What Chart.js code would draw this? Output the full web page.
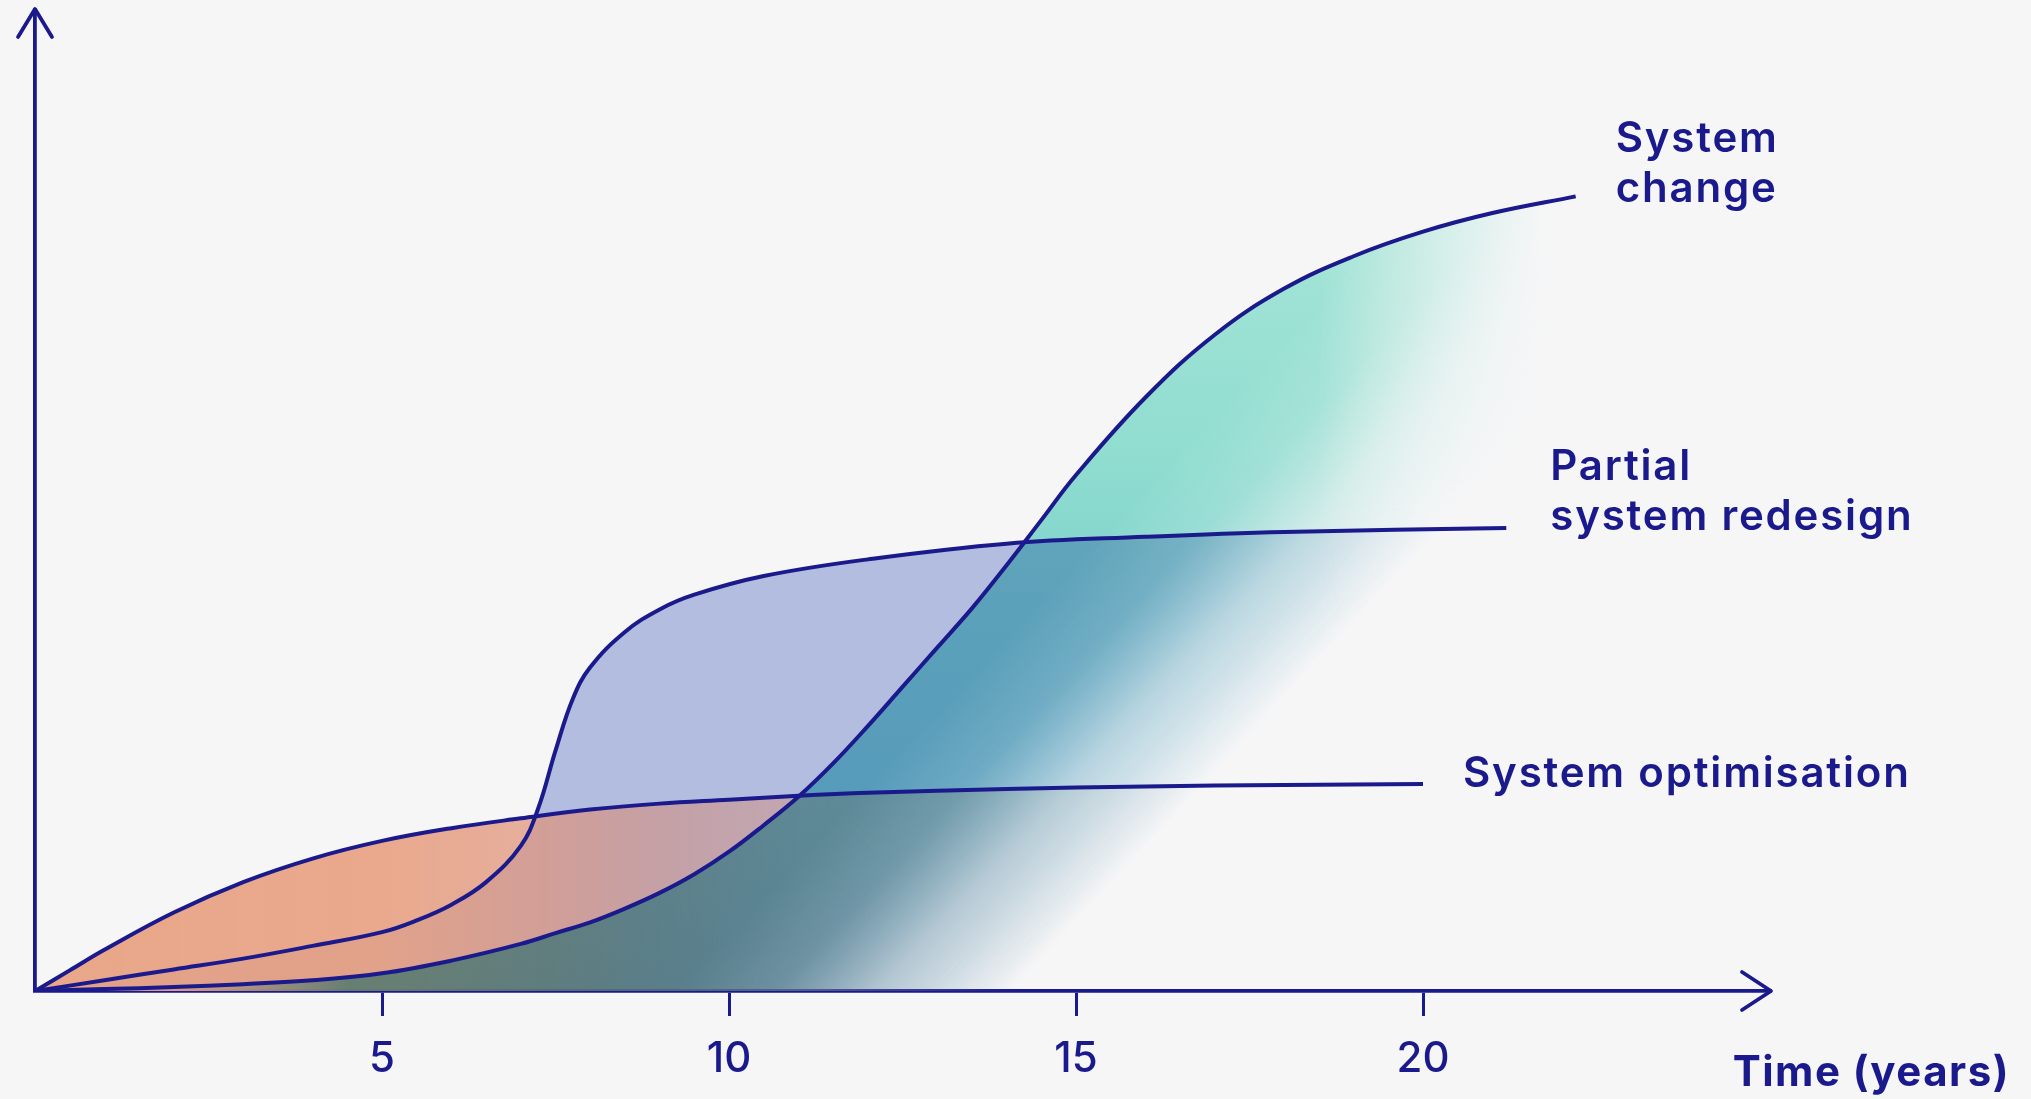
<!DOCTYPE html>
<html>
<head>
<meta charset="utf-8">
<title>System change over time</title>
<script src="https://cdn.jsdelivr.net/npm/chart.js@4.4.1/dist/chart.umd.min.js"></script>
<style>
  html, body { margin: 0; padding: 0; background: #f6f6f7; }
  #wrap { width: 2031px; height: 1099px; position: relative; }
</style>
</head>
<body>
<div id="wrap"><canvas id="changeChart"></canvas></div>
<script>
// values (x = years, y = relative impact 0-100)
const change_years = [0, 1, 2, 3, 4, 5, 6, 7, 7.5, 8, 8.5, 9, 9.5, 10, 10.5, 11, 11.5, 12, 12.5, 13, 13.5, 14, 14.5, 15, 16, 17, 18, 19, 20, 21, 22.2]
const change_values = [0, 0.2, 0.4, 0.7, 1.1, 1.8, 3.1, 4.8, 5.9, 7.0, 8.4, 10.0, 11.9, 14.2, 16.9, 19.8, 23.2, 27.0, 31.0, 35.0, 39.0, 43.4, 48.0, 52.6, 60.5, 66.9, 71.6, 74.9, 77.4, 79.3, 81.0]

const redesign_years = [0, 1, 2, 3, 4, 5, 5.5, 6, 6.5, 7, 7.25, 7.5, 7.75, 8, 8.5, 9, 9.5, 10.5, 12, 14, 16, 18, 21.2]
const redesign_values = [0, 1.1, 2.2, 3.3, 4.6, 6.0, 7.2, 8.8, 11.1, 14.8, 18.6, 24.5, 29.8, 33.0, 36.6, 38.9, 40.4, 42.3, 44.0, 45.6, 46.3, 46.8, 47.2]

const optimisation_years = [0, 0.5, 1, 2, 3, 4, 5, 6, 7, 8, 9, 10, 11, 12, 14, 16, 18, 20]
const optimisation_values = [0, 2.1, 4.2, 8.0, 11.1, 13.5, 15.3, 16.6, 17.6, 18.5, 19.1, 19.5, 19.9, 20.2, 20.6, 20.85, 21.0, 21.1]

const x_ticks = [5, 10, 15, 20]
const x_max = 25
const y_max = 100

const series_labels = [['System', 'change'], ['Partial', 'system redesign'], ['System optimisation']]
const axis_title = 'Time (years)'

const navy = '#1b1a8c'
const page_bg = '#f6f6f7'

const to_points = (xs, ys) => xs.map((x, i) => ({x: x, y: ys[i]}))

// soft colour layers used as fill styles, cached per canvas size
const layer_cache = {}

function build_layer(chart, name) {
  if (!chart.chartArea) return 'rgba(0,0,0,0)'
  const w = chart.width, h = chart.height
  const key = name + '_' + w + 'x' + h
  if (layer_cache[key]) return layer_cache[key]

  const xs = chart.scales.x, ys = chart.scales.y
  const px = v => xs.getPixelForValue(v)
  const py = v => ys.getPixelForValue(v)

  const off = document.createElement('canvas')
  off.width = w
  off.height = h
  const c = off.getContext('2d')

  if (name === 'change') {
    const g = c.createLinearGradient(0, py(80), 0, py(0))
    g.addColorStop(0, 'rgb(172,238,222)')
    g.addColorStop(0.31, 'rgb(150,230,215)')
    g.addColorStop(0.5, 'rgb(132,218,212)')
    g.addColorStop(1, 'rgb(116,200,212)')
    c.fillStyle = g
  } else if (name === 'optimisation') {
    const g = c.createLinearGradient(px(0), 0, px(16), 0)
    g.addColorStop(0, 'rgba(232,158,126,0.9)')
    g.addColorStop(5 / 16, 'rgba(232,158,126,0.88)')
    g.addColorStop(7.5 / 16, 'rgba(222,146,122,0.7)')
    g.addColorStop(9 / 16, 'rgba(212,138,120,0.56)')
    g.addColorStop(12 / 16, 'rgba(210,140,125,0.4)')
    g.addColorStop(1, 'rgba(210,150,140,0.25)')
    c.fillStyle = g
  } else {
    c.fillStyle = 'rgba(150,165,214,0.7)'
  }
  c.fillRect(0, 0, w, h)

  // fade out towards the bottom right, across a line from (11.7, 0) to (19.6, 60)
  c.globalCompositeOperation = 'destination-in'
  const ax = px(11.7), ay = py(0), bx = px(19.6), by = py(60)
  const len = Math.hypot(bx - ax, by - ay)
  const nx = -(by - ay) / len, ny = (bx - ax) / len
  const mx = (ax + bx) / 2, my = (ay + by) / 2
  const fade = c.createLinearGradient(mx - nx * 125, my - ny * 125, mx + nx * 120, my + ny * 120)
  fade.addColorStop(0, 'rgba(0,0,0,1)')
  fade.addColorStop(0.3, 'rgba(0,0,0,0.82)')
  fade.addColorStop(0.6, 'rgba(0,0,0,0.35)')
  fade.addColorStop(1, 'rgba(0,0,0,0)')
  c.fillStyle = fade
  c.fillRect(0, 0, w, h)

  if (name === 'change') {
    const left = c.createLinearGradient(px(2), 0, px(4.5), 0)
    left.addColorStop(0, 'rgba(0,0,0,0)')
    left.addColorStop(1, 'rgba(0,0,0,1)')
    c.fillStyle = left
    c.fillRect(0, 0, w, h)

    const right = c.createLinearGradient(px(18.5), 0, px(21.8), 0)
    right.addColorStop(0, 'rgba(0,0,0,1)')
    right.addColorStop(1, 'rgba(0,0,0,0)')
    c.fillStyle = right
    c.fillRect(0, 0, w, h)
  }

  layer_cache[key] = chart.ctx.createPattern(off, 'no-repeat')
  return layer_cache[key]
}

const decor_plugin = {
  id: 'decor',
  beforeDraw(chart) {
    const ctx = chart.ctx
    ctx.save()
    ctx.fillStyle = page_bg
    ctx.fillRect(0, 0, chart.width, chart.height)
    ctx.restore()
  },
  // the teal layer is blended with multiply over the two others
  afterDatasetDraw(chart, args) {
    if (args.index === 4) chart.ctx.globalCompositeOperation = 'multiply'
    if (args.index === 3) chart.ctx.globalCompositeOperation = 'source-over'
  },
  afterDraw(chart) {
    const ctx = chart.ctx
    const xs = chart.scales.x, ys = chart.scales.y
    const x0 = xs.getPixelForValue(0), y0 = ys.getPixelForValue(0)
    const x_end = xs.getPixelForValue(x_max), y_end = ys.getPixelForValue(y_max)

    ctx.save()
    ctx.strokeStyle = navy
    ctx.lineWidth = 3.8
    ctx.lineCap = 'round'
    ctx.lineJoin = 'round'
    ctx.beginPath()
    ctx.moveTo(x_end - 28, y0 - 19)
    ctx.lineTo(x_end + 1, y0)
    ctx.lineTo(x_end - 28, y0 + 19)
    ctx.moveTo(x0 - 17, y_end + 27)
    ctx.lineTo(x0, y_end - 1)
    ctx.lineTo(x0 + 17, y_end + 27)
    ctx.stroke()

    ctx.fillStyle = navy
    ctx.font = '600 42px Inter'
    ctx.letterSpacing = '1.8px'
    ctx.textBaseline = 'alphabetic'
    ctx.textAlign = 'left'
    const label_dx = [40, 44, 40]
    const label_dy = [6, 2, 3]
    series_labels.forEach((lines, i) => {
      const pts = chart.getDatasetMeta(i).data
      const last = pts[pts.length - 1]
      lines.forEach((txt, j) => {
        ctx.fillText(txt, last.x + label_dx[i], last.y + label_dy[i] - (lines.length - 1 - j) * 50)
      })
    })

    ctx.font = '700 42px Inter'
    ctx.letterSpacing = '1.5px'
    ctx.textAlign = 'right'
    ctx.fillText(axis_title, chart.width - 21, 1086)
    ctx.restore()
  }
}

const line_style = {
  fill: false,
  borderColor: navy,
  borderWidth: 4,
  pointRadius: 0,
  tension: 0.4
}

const fill_style = {
  borderWidth: 0,
  borderColor: 'rgba(0,0,0,0)',
  pointRadius: 0,
  tension: 0.4,
  fill: 'origin'
}

const ctx = document.getElementById('changeChart').getContext('2d')

const chart = new Chart(ctx, {
  type: 'line',
  data: {
    datasets: [
      {label: 'System change', data: to_points(change_years, change_values), ...line_style},
      {label: 'Partial system redesign', data: to_points(redesign_years, redesign_values), ...line_style},
      {label: 'System optimisation', data: to_points(optimisation_years, optimisation_values), ...line_style},
      {label: 'System change area', data: to_points(change_years, change_values), ...fill_style,
        backgroundColor: c => build_layer(c.chart, 'change')},
      {label: 'System optimisation area', data: to_points(optimisation_years, optimisation_values), ...fill_style,
        backgroundColor: c => build_layer(c.chart, 'optimisation')},
      {label: 'Partial system redesign area', data: to_points(redesign_years, redesign_values), ...fill_style,
        backgroundColor: c => build_layer(c.chart, 'redesign')}
    ]
  },
  options: {
    responsive: true,
    maintainAspectRatio: false,
    animation: false,
    layout: {padding: {left: 35, right: 261, top: 10, bottom: 0}},
    plugins: {
      legend: {display: false},
      tooltip: {enabled: false},
      filler: {propagate: false}
    },
    scales: {
      x: {
        type: 'linear',
        min: 0,
        max: x_max,
        afterBuildTicks: scale => { scale.ticks = x_ticks.map(v => ({value: v})) },
        afterFit: scale => { scale.height = 108 },
        border: {display: true, color: navy, width: 3.8},
        grid: {display: true, drawOnChartArea: false, drawTicks: true, tickLength: 25, color: navy, lineWidth: 3},
        ticks: {color: navy, padding: 18, font: {family: 'Inter', size: 42, weight: '500'}}
      },
      y: {
        min: 0,
        max: y_max,
        afterFit: scale => { scale.width = 0 },
        border: {display: true, color: navy, width: 3.8},
        grid: {display: false, drawTicks: false},
        ticks: {display: false}
      }
    }
  },
  plugins: [decor_plugin]
})
</script>
</body>
</html>
